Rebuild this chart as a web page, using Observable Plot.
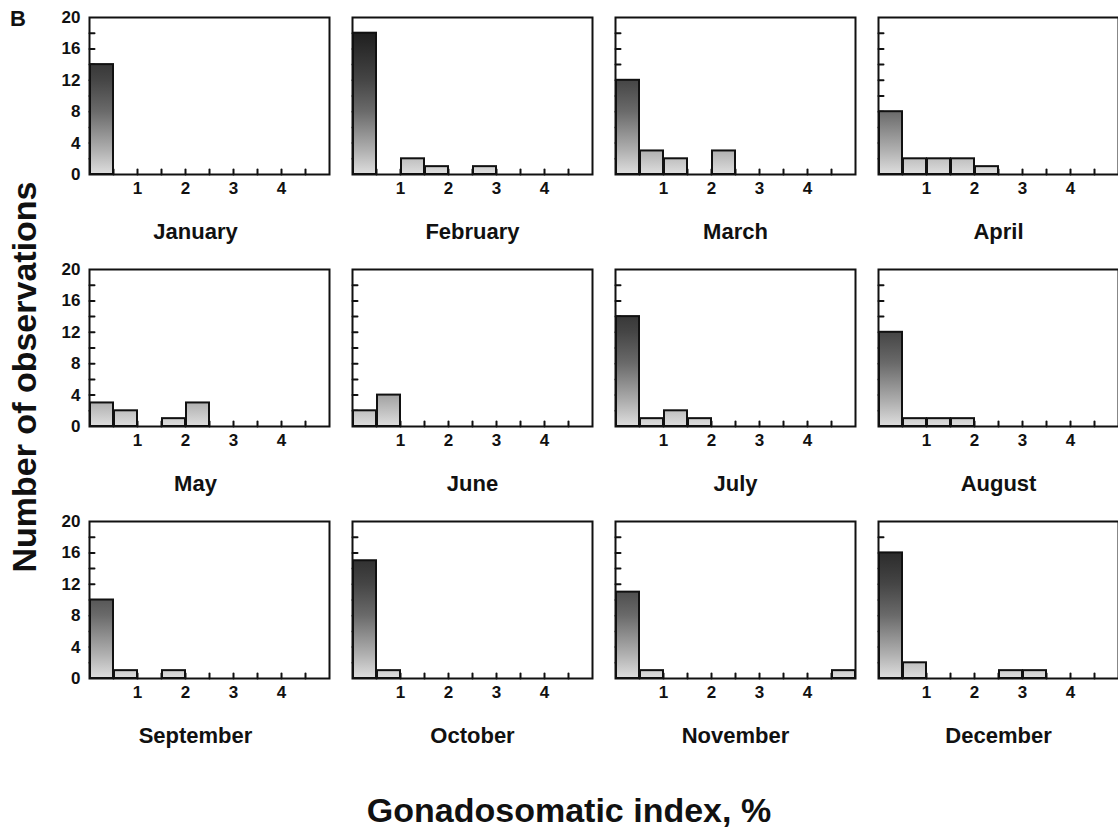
<!DOCTYPE html>
<html>
<head>
<meta charset="utf-8">
<script src="https://cdn.jsdelivr.net/npm/d3@7"></script>
<script src="https://cdn.jsdelivr.net/npm/@observablehq/plot@0.6"></script>
<style>
  html, body { margin: 0; padding: 0; background: #fff; overflow: hidden; }
  #figure {
    position: relative; width: 1118px; height: 836px; overflow: hidden;
    font-family: "Liberation Sans", Arial, sans-serif; font-weight: bold; color: #111;
  }
  #chart { position: absolute; left: 0; top: 0; }
  .panel-tag { position: absolute; left: 10px; top: 8px; font-size: 22px; line-height: 1; }
  .y-title {
    position: absolute; left: 24px; top: 377px; font-size: 34px; line-height: 1;
    white-space: nowrap; transform: translate(-50%, -50%) rotate(-90deg);
  }
  .x-title {
    position: absolute; left: 569px; top: 793px; font-size: 34px; line-height: 1;
    white-space: nowrap; transform: translateX(-50%);
  }
</style>
</head>
<body>
<div id="figure">
  <div id="chart"></div>
  <div class="panel-tag">B</div>
  <div class="y-title">Number of observations</div>
  <div class="x-title">Gonadosomatic index, %</div>
</div>
<script>
// Monthly histograms of the gonadosomatic index (GSI, %), bins of 0.5 % from 0 to 5 %.
const months = ["January", "February", "March", "April", "May", "June",
                "July", "August", "September", "October", "November", "December"];

const binWidth = 0.5;
const binStarts = [0, 0.5, 1, 1.5, 2, 2.5, 3, 3.5, 4, 4.5];

// Number of observations in each GSI bin
const january   = [14, 0, 0, 0, 0, 0, 0, 0, 0, 0];
const february  = [18, 0, 2, 1, 0, 1, 0, 0, 0, 0];
const march     = [12, 3, 2, 0, 3, 0, 0, 0, 0, 0];
const april     = [8, 2, 2, 2, 1, 0, 0, 0, 0, 0];
const may       = [3, 2, 0, 1, 3, 0, 0, 0, 0, 0];
const june      = [2, 4, 0, 0, 0, 0, 0, 0, 0, 0];
const july      = [14, 1, 2, 1, 0, 0, 0, 0, 0, 0];
const august    = [12, 1, 1, 1, 0, 0, 0, 0, 0, 0];
const september = [10, 1, 0, 1, 0, 0, 0, 0, 0, 0];
const october   = [15, 1, 0, 0, 0, 0, 0, 0, 0, 0];
const november  = [11, 1, 0, 0, 0, 0, 0, 0, 0, 1];
const december  = [16, 2, 0, 0, 0, 1, 1, 0, 0, 0];

const monthlyCounts = [january, february, march, april, may, june,
                       july, august, september, october, november, december];

const xTickLabels = [1, 2, 3, 4];
const xMinorTicks = [0.5, 1, 1.5, 2, 2.5, 3, 3.5, 4, 4.5];
const yTickLabels = [0, 4, 8, 12, 16, 20];
const yMinorTicks = [2, 4, 6, 8, 10, 12, 14, 16, 18];

// Grey shading of the bars: light at zero, dark toward the top of the count axis
const shadeStops = [
  [0, "#dedede"], [0.15, "#b0b0b0"], [0.4, "#6a6a6a"], [0.6, "#454545"],
  [0.7, "#383838"], [0.9, "#1f1f1f"], [1, "#151515"]
];

const columns = 4;
const bars = monthlyCounts
  .flatMap((counts, m) => counts.map((count, i) => ({
    month: months[m], col: m % columns, row: Math.floor(m / columns),
    start: binStarts[i], count
  })))
  .filter(d => d.count > 0);

const panels = months.map((month, m) => ({month, col: m % columns, row: Math.floor(m / columns)}));
const rowsCount = Math.ceil(months.length / columns);
const yLabelRows = d3.range(rowsCount).flatMap(row => yTickLabels.map(value => ({row, col: 0, value})));

// Plain line used as an inward tick
const tickShape = {draw(context, length) { context.moveTo(0, 0); context.lineTo(0, -length); }};

const chart = Plot.plot({
  width: 1120,
  height: 770,
  marginTop: 17,
  marginBottom: 92,
  marginLeft: 87,
  marginRight: 0,
  style: {fontFamily: '"Liberation Sans", Arial, sans-serif', fontWeight: "bold", color: "#111", background: "white", maxWidth: "none"},
  fx: {axis: null, paddingInner: 0.0871, paddingOuter: 0},
  fy: {axis: null, paddingInner: 0.377, paddingOuter: 0},
  x: {domain: [0, 5], axis: null},
  y: {domain: [0, 20], axis: null},
  marks: [
    Plot.vector(xMinorTicks, {x: d => d, frameAnchor: "bottom", length: 5, rotate: 0, anchor: "start",
      shape: tickShape, stroke: "#111", strokeWidth: 2}),
    Plot.vector(yMinorTicks, {y: d => d, frameAnchor: "left", length: 5, rotate: 90, anchor: "start",
      shape: tickShape, stroke: "#111", strokeWidth: 2}),
    Plot.rectY(bars, {fx: "col", fy: "row", x: "start", interval: binWidth, y: "count",
      fill: "url(#gsi-shade)", stroke: "#111", strokeWidth: 2}),
    Plot.frame({stroke: "#111", strokeWidth: 2}),
    Plot.text(xTickLabels, {x: d => d, frameAnchor: "bottom", dy: 19, fontSize: 17}),
    Plot.text(yLabelRows, {fx: "col", fy: "row", y: "value", text: d => String(d.value),
      frameAnchor: "left", textAnchor: "end", dx: -9, fontSize: 17}),
    Plot.text(panels.filter(d => d.col === 0), {fx: "col", fy: "row", text: "month",
      frameAnchor: "bottom", dy: 64, dx: -14, fontSize: 22}),
    Plot.text(panels.filter(d => d.col !== 0), {fx: "col", fy: "row", text: "month",
      frameAnchor: "bottom", dy: 64, fontSize: 22})
  ]
});

// Vertical gradient in the panels' own coordinates, spanning the count axis
const yScale = chart.scale("y");
const ns = "http://www.w3.org/2000/svg";
const defs = document.createElementNS(ns, "defs");
const gradient = document.createElementNS(ns, "linearGradient");
gradient.setAttribute("id", "gsi-shade");
gradient.setAttribute("gradientUnits", "userSpaceOnUse");
gradient.setAttribute("x1", 0);
gradient.setAttribute("x2", 0);
gradient.setAttribute("y1", yScale.apply(0));
gradient.setAttribute("y2", yScale.apply(20));
for (const [offset, color] of shadeStops) {
  const stop = document.createElementNS(ns, "stop");
  stop.setAttribute("offset", offset);
  stop.setAttribute("stop-color", color);
  gradient.appendChild(stop);
}
defs.appendChild(gradient);
chart.prepend(defs);

document.getElementById("chart").appendChild(chart);
</script>
</body>
</html>
